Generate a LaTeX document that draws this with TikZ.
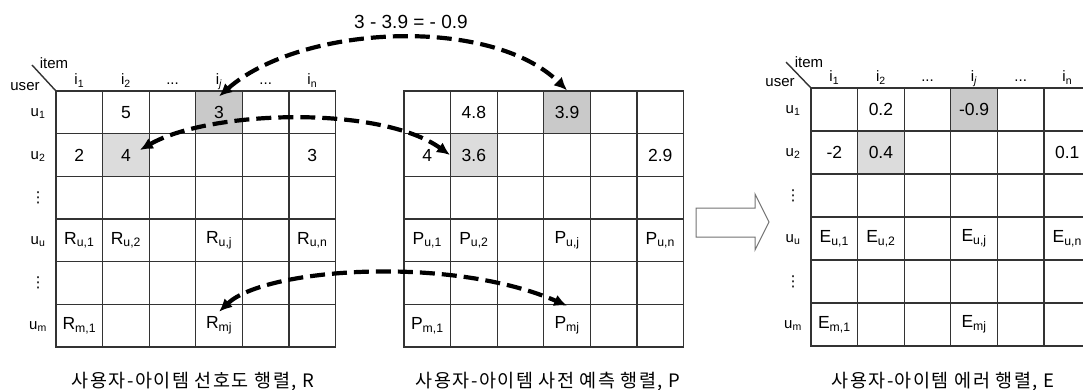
\documentclass[tikz,border=0pt]{standalone}
\usepackage{fontspec}
\setmainfont{Liberation Sans}
\newfontfamily\krfont[LetterSpace=8]{Noto Sans CJK KR}
\newfontfamily\dvsfont{DejaVu Sans}
\usetikzlibrary{arrows.meta}
\definecolor{gridc}{HTML}{333333}
\definecolor{shadeA}{HTML}{C9C9C9}
\definecolor{shadeB}{HTML}{DCDCDC}
\newcommand{\sbs}[1]{\textsubscript{#1}}
\begin{document}
\begin{tikzpicture}[x=1pt,y=-1pt,
  cell/.style={draw=gridc,line width=1.3pt,minimum width=46.6pt,minimum height=42.67pt,inner sep=0pt,font=\fontsize{17.5}{20}\selectfont},
  val/.style={inner sep=0pt,font=\fontsize{17.5}{20}\selectfont},
  hdr/.style={inner sep=0pt,anchor=base,font=\fontsize{15}{18}\selectfont},
  lbl/.style={inner sep=0pt,anchor=base,font=\fontsize{15}{18}\selectfont},
  vd/.style={inner sep=0pt,font=\dvsfont\fontsize{15}{18}\selectfont},
  corner/.style={inner sep=0pt,font=\fontsize{15}{18}\selectfont},
  captext/.style={inner sep=0pt,font=\krfont\fontsize{18.5}{22}\selectfont},
  ttl/.style={inner sep=0pt,font=\fontsize{19}{22}\selectfont},
  dasharrow/.style={line width=4.2pt,dash pattern=on 15pt off 7pt,{Latex[length=13pt,width=12pt]}-{Latex[length=13pt,width=12pt]}},
  bigarrow/.style={draw=black!55,line width=1pt,fill=white}
]
\clip (0,0) rectangle (1083,390);
% grids
\foreach \m/\L/\T/\H in {R/56/91/42.67, P/404/91/42.67, E/811/88/43} {
  \foreach \r in {1,...,6} {
    \foreach \c in {1,...,6} {
      \node[cell,minimum height=\H pt] (\m-\r-\c) at ({\L+(\c-0.5)*46.6},{\T+(\r-0.5)*\H}) {};
    }
  }
}
% shaded cells
\node[cell,fill=shadeA] (R14v) at (R-1-4) {3};
\node[cell,fill=shadeB] (R22v) at (R-2-2) {4};
\node[cell,fill=shadeA] (P14v) at (P-1-4) {3.9};
\node[cell,fill=shadeB] (P22v) at (P-2-2) {3.6};
\node[cell,minimum height=43pt,fill=shadeA] (E14v) at (E-1-4) {-0.9};
\node[cell,minimum height=43pt,fill=shadeB] (E22v) at (E-2-2) {0.4};
% R values
\node[val] (R12v) at (R-1-2) {5};
\node[val] (R21v) at (R-2-1) {2};
\node[val] (R26v) at (R-2-6) {3};
\node[val] (R41v) at (R-4-1) {R\sbs{u,1}};
\node[val] (R42v) at (R-4-2) {R\sbs{u,2}};
\node[val] (R44v) at (R-4-4) {R\sbs{u,j}};
\node[val] (R46v) at (R-4-6) {R\sbs{u,n}};
\node[val] (R61v) at (R-6-1) {R\sbs{m,1}};
\node[val] (R64v) at (R-6-4) {R\sbs{mj}};
% P values
\node[val] (P12v) at (P-1-2) {4.8};
\node[val] (P21v) at (P-2-1) {4};
\node[val] (P26v) at (P-2-6) {2.9};
\node[val] (P41v) at (P-4-1) {P\sbs{u,1}};
\node[val] (P42v) at (P-4-2) {P\sbs{u,2}};
\node[val] (P44v) at (P-4-4) {P\sbs{u,j}};
\node[val] (P46v) at (P-4-6) {P\sbs{u,n}};
\node[val] (P61v) at (P-6-1) {P\sbs{m,1}};
\node[val] (P64v) at (P-6-4) {P\sbs{mj}};
% E values
\node[val] (E12v) at (E-1-2) {0.2};
\node[val] (E21v) at (E-2-1) {-2};
\node[val] (E26v) at (E-2-6) {0.1};
\node[val] (E41v) at (E-4-1) {E\sbs{u,1}};
\node[val] (E42v) at (E-4-2) {E\sbs{u,2}};
\node[val] (E44v) at (E-4-4) {E\sbs{u,j}};
\node[val] (E46v) at (E-4-6) {E\sbs{u,n}};
\node[val] (E61v) at (E-6-1) {E\sbs{m,1}};
\node[val] (E64v) at (E-6-4) {E\sbs{mj}};
% column headers
\foreach \m/\yb in {R/85, E/82} {
  \node[hdr] (\m h1) at (\m-1-1 |- 0,\yb) {i\sbs{1}};
  \node[hdr] (\m h2) at (\m-1-2 |- 0,\yb) {i\sbs{2}};
  \node[hdr] (\m h3) at (\m-1-3 |- 0,\yb) {...};
  \node[hdr] (\m h4) at (\m-1-4 |- 0,\yb) {i\sbs{\textit{j}}};
  \node[hdr] (\m h5) at (\m-1-5 |- 0,\yb) {...};
  \node[hdr] (\m h6) at (\m-1-6 |- 0,\yb) {i\sbs{n}};
}
% row labels
\foreach \m/\x in {R/38, E/793} {
  \node[lbl] (\m r1) at ([yshift=-4pt]\m-1-1.center -| \x,0) {u\sbs{1}};
  \node[lbl] (\m r2) at ([yshift=-4pt]\m-2-1.center -| \x,0) {u\sbs{2}};
  \node[vd]  (\m r3) at (\m-3-1.center -| \x,0) {⋮};
  \node[lbl] (\m r4) at ([yshift=-4pt]\m-4-1.center -| \x,0) {u\sbs{u}};
  \node[vd]  (\m r5) at (\m-5-1.center -| \x,0) {⋮};
  \node[lbl] (\m r6) at ([yshift=-4pt]\m-6-1.center -| \x,0) {u\sbs{m}};
}
% corners
\coordinate (Rdiag) at (32,65);
\coordinate (Ediag) at (786,62);
\draw[line width=1.4pt,gridc] (Rdiag) -- (R-1-1.north west);
\draw[line width=1.4pt,gridc] (Ediag) -- (E-1-1.north west);
\node[corner] (Ritem) at (54,63) {item};
\node[corner] (Ruser) at (25,87) {user};
\node[corner] (Eitem) at (809,62) {item};
\node[corner] (Euser) at (780,83) {user};
% title
\node[ttl] (eq) at (411,22) {3 - 3.9 = - 0.9};
% dashed arrows
\draw[dasharrow] ([yshift=-6pt]R-1-4.north) .. controls (300,25) and (490,15) .. (P-1-4.north);
\draw[dasharrow] ([xshift=14pt,yshift=5pt]R-2-2.center) .. controls (210,110) and (380,105) .. (P-2-2.west);
\draw[dasharrow] ([yshift=-8pt]R-6-4.north) .. controls (265,268) and (450,255) .. ([yshift=-2pt]P-6-4.north);
% big hollow arrow
\draw[bigarrow] (696,208) -- (755,208) -- (755,194) -- (769,222) -- (755,250) -- (755,237) -- (696,237) -- cycle;
% captions
\node[captext] (capR) at (193,382) {사용자-아이템 선호도 행렬, R};
\node[captext] (capP) at (548,382) {사용자-아이템 사전 예측 행렬, P};
\node[captext] (capE) at (943,382) {사용자-아이템 에러 행렬, E};
\end{tikzpicture}
\end{document}
